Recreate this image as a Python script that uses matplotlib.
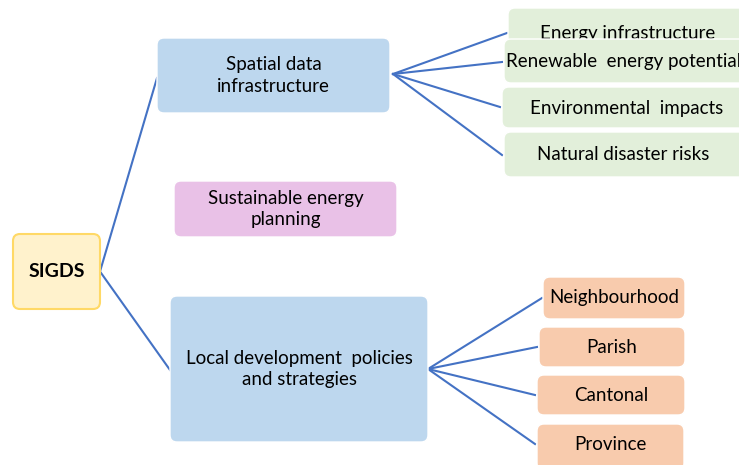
import matplotlib
matplotlib.use("Agg")
import matplotlib.pyplot as plt
from matplotlib.patches import FancyBboxPatch

# ---- content ----
root_label = "SIGDS"
branch_labels = ["Spatial data\ninfrastructure", "Sustainable energy\nplanning",
                 "Local development  policies\nand strategies"]
sdi_children = ["Energy infrastructure", "Renewable  energy potentials",
                "Environmental  impacts", "Natural disaster risks"]
local_children = ["Neighbourhood", "Parish", "Cantonal", "Province"]

# ---- layout (pixel coords: x0, y0, x1, y1) ----
root_box = (13, 234, 100, 309)
branch_boxes = [(157, 38, 390, 113), (174, 181, 397, 237), (170, 296, 428, 442)]
sdi_boxes = [(508, 8, 760, 50), (504, 39, 760, 83), (502, 87, 760, 128), (504, 132, 760, 177)]
sdi_text_xy = [(628, 34), (628, 61), (627, 108), (623, 154)]
local_boxes = [(543, 277, 685, 319), (539, 327, 685, 367), (537, 375, 685, 415), (537, 424, 684, 470)]
local_text_y = [297, 347, 395, 444]

C_LINE = "#4472C4"
C_ROOT = "#FFF2CC"; C_ROOT_E = "#FFD966"
C_BLUE = "#BDD7EE"; C_PINK = "#E9C1E7"
C_GREEN = "#E2EFDA"; C_ORANGE = "#F8CBAD"
FONT = "Lato"

fig = plt.figure(figsize=(7.39, 4.65), dpi=100)
ax = fig.add_axes([0, 0, 1, 1])
ax.set_xlim(0, 739)
ax.set_ylim(465, 0)
ax.axis("off")

def box(b, fc, ec="white", lw=1.0, z=1, r=7):
    x0, y0, x1, y1 = b
    p = FancyBboxPatch((x0, y0), x1 - x0, y1 - y0,
                       boxstyle=f"round,pad=0,rounding_size={r}",
                       fc=fc, ec=ec, lw=lw, zorder=z)
    ax.add_patch(p)
    return p

def txt(x, y, s, z, size=13.5, weight="normal"):
    return ax.text(x, y, s, ha="center", va="center", fontsize=size, fontweight=weight,
                   family=FONT, color="#000000", linespacing=1.35, zorder=z)

# connectors
rx = root_box[2]; ry = (root_box[1] + root_box[3]) / 2
ax.plot([branch_boxes[0][0], rx, branch_boxes[2][0]],
        [78, ry, 370], color=C_LINE, lw=1.5, zorder=0.5)
sx, sy = 393, 74
ends_sdi = [(507, 33), (502, 62), (500, 107), (502, 155)]
for ex, ey in ends_sdi:
    ax.plot([sx, ex], [sy, ey], color=C_LINE, lw=1.5, zorder=0.5)
lx, ly = 428, 369
ends_loc = [(542, 298), (537, 347), (535, 395), (535, 444)]
for ex, ey in ends_loc:
    ax.plot([lx, ex], [ly, ey], color=C_LINE, lw=1.5, zorder=0.5)

# root
box(root_box, C_ROOT, ec=C_ROOT_E, lw=1.5)
txt((root_box[0] + root_box[2]) / 2, ry, root_label, 2, size=14, weight="bold")

# branches
for b, lab, fc in zip(branch_boxes, branch_labels, [C_BLUE, C_PINK, C_BLUE]):
    box(b, fc)
    txt((b[0] + b[2]) / 2, (b[1] + b[3]) / 2, lab, 2)

# SDI children (stacked, later boxes overlap earlier ones)
for i, (b, lab, (tx, ty)) in enumerate(zip(sdi_boxes, sdi_children, sdi_text_xy)):
    box(b, C_GREEN, z=1 + 2 * i)
    txt(tx, ty, lab, 2 + 2 * i)

# local children
for b, lab, ty in zip(local_boxes, local_children, local_text_y):
    box(b, C_ORANGE)
    txt((b[0] + b[2]) / 2, ty, lab, 2)

fig.savefig("out.png", dpi=100)
